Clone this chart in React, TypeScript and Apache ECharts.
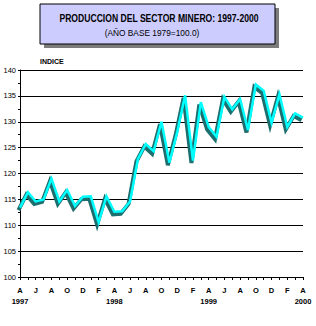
import React, { useEffect, useRef } from "react";
import * as echarts from "echarts";

const months = [
  "A", "M", "J", "J", "A", "S", "O", "N", "D", "E", "F", "M",
  "A", "M", "J", "J", "A", "S", "O", "N", "D", "E", "F", "M",
  "A", "M", "J", "J", "A", "S", "O", "N", "D", "E", "F", "M",
  "A",
];
const yearIndex = [0, 12, 24, 36];
const yearNames = ["1997", "1998", "1999", "2000"];

const produccion = [
  113.4, 116.4, 114.6, 115.0, 119.0, 114.6, 116.8, 113.7, 115.5, 115.6, 110.6, 115.6,
  112.6, 112.7, 114.6, 122.8, 125.7, 124.3, 130.0, 122.1, 128.0, 135.1, 122.5, 133.8,
  129.0, 127.1, 134.8, 132.4, 134.4, 128.4, 137.2, 136.0, 129.8, 135.3, 129.0, 131.6,
  130.8,
];

const labeled = [
  { index: 4, text: "119.0", position: "left" },
  { index: 21, text: "135.1", position: "top" },
  { index: 30, text: "137.2", position: "top" },
  { index: 36, text: "130.8", position: "bottom" },
];

const title = "PRODUCCION DEL SECTOR MINERO: 1997-2000";
const subtitle = "(AÑO BASE 1979=100.0)";

export default function App() {
  const ref = useRef<HTMLDivElement>(null);
  useEffect(() => {
    if (!ref.current) return;
    const chart = echarts.init(ref.current, null, { renderer: "svg" });
    const font = "Liberation Sans, Arial, sans-serif";
    const cyanData = produccion.map((v, i) => {
      const l = labeled.find((x) => x.index === i);
      if (!l) return v;
      return {
        value: v,
        label: {
          show: true,
          position: l.position,
          distance: l.position === "left" ? 1 : 4,
          offset: l.position === "left" ? [0, -4] : l.position === "bottom" ? [2, 2] : [0, 0],
          formatter: l.text,
          fontSize: 8,
          fontFamily: font,
          color: "#000",
        },
      };
    });
    const gridMain = { left: 20, right: 13, top: 70, bottom: 49 };
    const gridShadow = { left: 18.5, right: 14.5, top: 72.5, bottom: 46.5 };
    chart.setOption({
      animation: false,
      backgroundColor: "#fff",
      grid: [gridShadow, gridMain],
      xAxis: [
        { type: "category", gridIndex: 0, data: months, boundaryGap: false, show: false },
        {
          type: "category",
          gridIndex: 1,
          data: months,
          boundaryGap: false,
          axisLine: { lineStyle: { color: "#000", width: 1 } },
          axisTick: { show: true, interval: 0, length: 3, lineStyle: { color: "#000" } },
          axisLabel: {
            interval: 1,
            margin: 8,
            fontSize: 7.5,
            fontFamily: font,
            fontWeight: "bold",
            color: "#000",
            lineHeight: 11,
            formatter: (val: string, idx: number) => {
              const k = yearIndex.indexOf(idx);
              return k >= 0 ? val + "\n" + yearNames[k] : val;
            },
          },
          splitLine: { show: false },
        },
      ],
      yAxis: [
        { type: "value", gridIndex: 0, min: 100, max: 140, interval: 5, show: false },
        {
          type: "value",
          gridIndex: 1,
          min: 100,
          max: 140,
          interval: 5,
          axisLine: { show: true, lineStyle: { color: "#000", width: 1 } },
          axisTick: { show: true, length: 2, lineStyle: { color: "#000" } },
          minorTick: { show: true, splitNumber: 2, length: 2, lineStyle: { color: "#000" } },
          axisLabel: { fontSize: 7.5, fontFamily: font, color: "#000", margin: 4 },
          splitLine: { show: true, lineStyle: { color: "#000", width: 1 } },
        },
      ],
      series: [
        {
          type: "line",
          xAxisIndex: 0,
          yAxisIndex: 0,
          data: produccion,
          symbol: "none",
          lineStyle: { color: "#1d6e6e", width: 4, join: "miter" },
          z: 3,
        },
        {
          type: "line",
          xAxisIndex: 1,
          yAxisIndex: 1,
          data: cyanData,
          symbol: "none",
          lineStyle: { color: "#00ffff", width: 2.5, join: "miter" },
          z: 4,
        },
      ],
      graphic: [
        { type: "rect", shape: { x: 44, y: 8, width: 235, height: 40 }, style: { fill: "#7c7c7c" }, z: 10 },
        {
          type: "rect",
          shape: { x: 40, y: 4, width: 235, height: 40 },
          style: { fill: "#ccccff", stroke: "#000", lineWidth: 1 },
          z: 11,
        },
        {
          type: "text",
          x: 159,
          y: 19,
          scaleX: 0.86,
          z: 12,
          style: {
            text: title,
            font: "bold 10px Liberation Sans, Arial, sans-serif",
            fill: "#000",
            textAlign: "center",
            textVerticalAlign: "middle",
          },
        },
        {
          type: "text",
          x: 152,
          y: 33,
          scaleX: 0.98,
          z: 12,
          style: {
            text: subtitle,
            font: "8.5px Liberation Sans, Arial, sans-serif",
            fill: "#000",
            textAlign: "center",
            textVerticalAlign: "middle",
          },
        },
        {
          type: "text",
          x: 40,
          y: 61,
          z: 12,
          style: {
            text: "INDICE",
            font: "bold 7px Liberation Sans, Arial, sans-serif",
            fill: "#000",
            textAlign: "left",
            textVerticalAlign: "middle",
          },
        },
      ],
    });
    return () => chart.dispose();
  }, []);
  return (
    <div
      ref={ref}
      style={{ position: "fixed", left: 0, top: 0, width: 316, height: 326 }}
    />
  );
}
